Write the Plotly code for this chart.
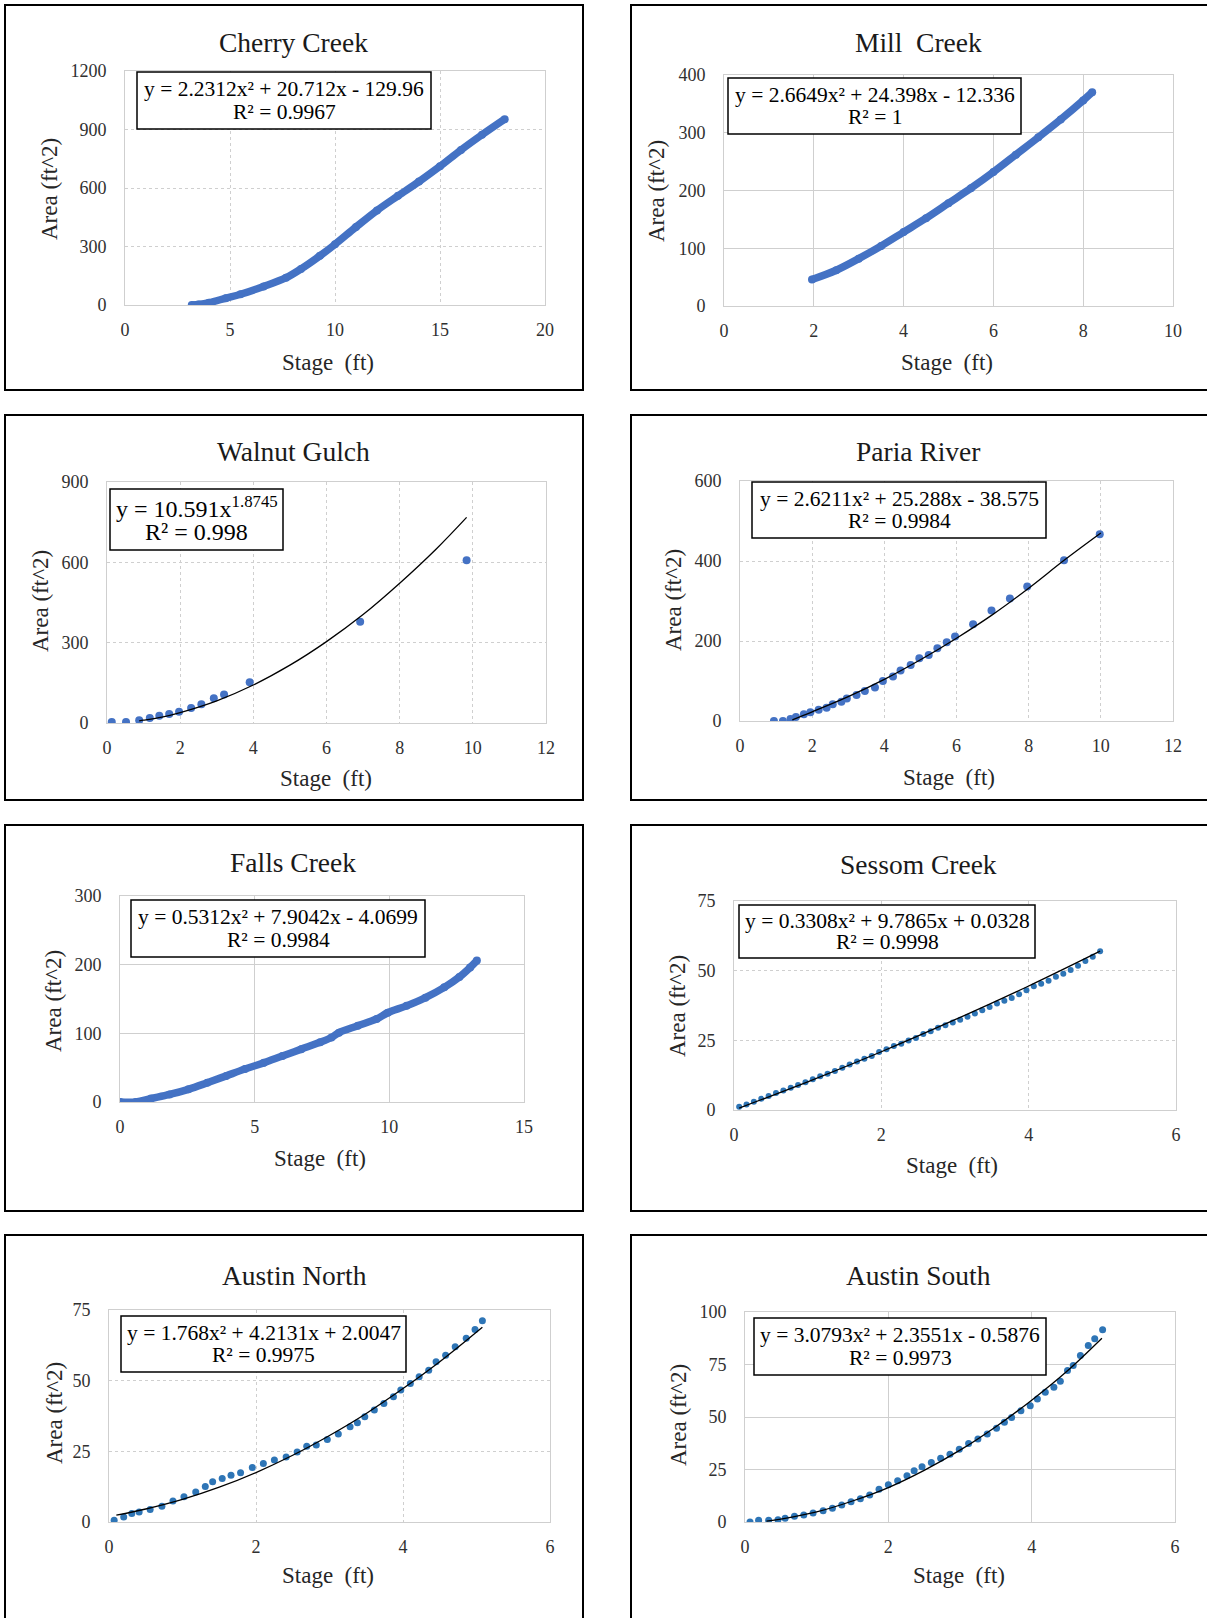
import plotly.graph_objects as go

W, H = 1207, 1618

# ---------------- data ----------------
cherry_stage = [3.18, 3.5, 4.0, 4.8, 5.5, 6.6, 7.67, 8.38, 9.28, 10.0, 11.0, 12.0, 13.0, 14.0, 15.0, 16.0, 17.0, 18.08]
cherry_area = [0, 3, 12, 35, 55, 95, 140, 185, 252, 311, 400, 485, 560, 633, 711, 795, 873, 953]

mill_stage = [1.96, 2.5, 3.0, 3.5, 4.0, 4.5, 5.0, 5.5, 6.0, 6.5, 7.0, 7.5, 8.0, 8.2]
mill_area = [46, 62, 82, 104, 128, 152, 178, 204, 232, 262, 292, 323, 356, 370]

walnut_stage = [0.13, 0.52, 0.88, 1.17, 1.43, 1.70, 1.97, 2.30, 2.58, 2.92, 3.20, 3.90, 6.92, 9.83]
walnut_area = [4, 4, 10, 19, 27, 34, 42, 56, 70, 92, 106, 152, 378, 608]
walnut_fit_stage = [0.88, 1.0, 1.5, 2.0, 3.0, 4.0, 5.0, 6.0, 7.0, 8.0, 9.0, 9.83]
walnut_fit_area = [8.3, 10.6, 22, 39, 83, 142, 216, 304, 405, 522, 650, 768]

paria_stage = [0.94, 1.19, 1.40, 1.55, 1.77, 1.95, 2.18, 2.40, 2.57, 2.81, 2.96, 3.23, 3.46, 3.74, 3.96,
               4.24, 4.45, 4.73, 4.97, 5.23, 5.47, 5.73, 5.96, 6.46, 6.97, 7.48, 7.96, 8.98, 9.97]
paria_area = [0, 0, 5, 10, 17, 22, 28, 33, 42, 48, 56, 65, 75, 84, 100,
              111, 126, 140, 157, 165, 182, 197, 211, 242, 276, 306, 336, 402, 467]
paria_fit_stage = [1.45, 2.0, 3.0, 4.0, 5.0, 6.0, 7.0, 8.0, 9.0, 10.0]
paria_fit_area = [3, 23, 61, 104, 153, 207, 266, 332, 403, 470]

falls_stage = [0, 0.59, 1.15, 1.84, 2.54, 3.24, 3.94, 4.64, 5.34, 6.03, 6.73, 7.43, 7.85, 8.13,
               8.83, 9.53, 9.94, 10.64, 11.34, 12.04, 12.6, 13.0, 13.25]
falls_area = [0, 0, 5, 11, 18.5, 28, 38, 48, 57, 67, 77, 87, 94, 101,
              111, 121, 130, 140, 152, 167, 182, 196, 206]

sessom_stage = [0.07, 0.17, 0.27, 0.37, 0.47, 0.57, 0.67, 0.77, 0.87, 0.97, 1.07, 1.17, 1.27, 1.37, 1.47,
                1.57, 1.67, 1.77, 1.87, 1.97, 2.07, 2.17, 2.27, 2.37, 2.47, 2.57, 2.67, 2.77, 2.87, 2.97,
                3.07, 3.17, 3.27, 3.37, 3.47, 3.57, 3.67, 3.77, 3.87, 3.97, 4.07, 4.17, 4.27, 4.37, 4.47,
                4.57, 4.67, 4.77, 4.87, 4.97]
sessom_area = [1.2, 2.0, 3.0, 4.0, 5.0, 6.1, 7.0, 8.0, 9.0, 10.0, 11.0, 12.1, 13.0, 14.0, 15.2,
               16.3, 17.4, 18.4, 19.4, 20.8, 21.8, 23.0, 23.8, 24.9, 25.8, 27.3, 28.3, 29.5, 30.4, 31.4,
               32.4, 33.5, 34.6, 35.8, 37.0, 38.2, 39.2, 40.2, 41.5, 43.0, 44.4, 45.3, 46.4, 47.8, 48.9,
               50.2, 51.8, 53.5, 55.0, 57.0]
sessom_fit_stage = [0.07, 1.0, 2.0, 3.0, 4.0, 4.97]
sessom_fit_area = [0.7, 10.1, 20.9, 32.4, 44.5, 57.0]

austin_n_stage = [0.07, 0.2, 0.31, 0.41, 0.56, 0.72, 0.87, 1.02, 1.18, 1.31, 1.41, 1.54, 1.66, 1.79, 1.95,
                  2.10, 2.25, 2.41, 2.56, 2.69, 2.82, 2.97, 3.12, 3.28, 3.38, 3.48, 3.61, 3.74, 3.87, 3.97,
                  4.10, 4.22, 4.35, 4.45, 4.58, 4.71, 4.86, 4.98, 5.08]
austin_n_area = [0.6, 1.8, 3.0, 3.5, 4.4, 5.6, 7.4, 8.9, 10.6, 12.6, 14.2, 15.4, 16.5, 17.4, 19.3,
                 20.7, 21.9, 23.0, 24.8, 26.8, 27.2, 29.2, 31.1, 33.7, 35.1, 37.2, 39.6, 41.9, 44.3, 46.7,
                 49.0, 51.4, 53.7, 56.7, 59.0, 62.0, 65.0, 68.1, 71.2]
austin_n_fit_stage = [0.1, 0.5, 1.0, 1.5, 2.0, 2.5, 3.0, 3.5, 4.0, 4.5, 5.08]
austin_n_fit_area = [2.4, 4.6, 8.0, 12.3, 17.5, 23.6, 30.6, 38.4, 47.2, 56.7, 68.9]

austin_s_stage = [0.07, 0.19, 0.33, 0.46, 0.56, 0.69, 0.82, 0.95, 1.09, 1.22, 1.35, 1.48, 1.61, 1.74, 1.87,
                  2.0, 2.13, 2.26, 2.36, 2.47, 2.60, 2.73, 2.86, 2.99, 3.12, 3.25, 3.38, 3.51, 3.62, 3.72,
                  3.85, 3.98, 4.08, 4.19, 4.31, 4.40, 4.50, 4.58, 4.68, 4.79, 4.88, 4.99]
austin_s_area = [0, 0.8, 0.8, 1.1, 1.8, 2.7, 3.3, 4.3, 5.3, 6.5, 8.1, 9.7, 11.1, 12.9, 15.6,
                 17.7, 19.6, 22.0, 24.4, 26.3, 28.3, 30.3, 32.3, 34.7, 37.4, 39.5, 41.9, 44.6, 47.5, 49.8,
                 53.0, 55.4, 58.6, 61.8, 64.2, 67.0, 72.1, 74.5, 79.3, 84.1, 87.3, 91.6]
austin_s_fit_stage = [0.3, 0.5, 1.0, 1.5, 2.0, 2.5, 3.0, 3.5, 4.0, 4.5, 4.98]
austin_s_fit_area = [0.4, 1.4, 4.8, 10.0, 16.4, 24.6, 34.2, 45.4, 58.0, 72.0, 87.5]

titles = ["Cherry Creek", "Mill  Creek", "Walnut Gulch", "Paria River",
          "Falls Creek", "Sessom Creek", "Austin North", "Austin South"]
equation_lines = [
    "y = 2.2312x² + 20.712x - 129.96",
    "y = 2.6649x² + 24.398x - 12.336",
    "y = 10.591x<sup>1.8745</sup>",
    "y = 2.6211x² + 25.288x - 38.575",
    "y = 0.5312x² + 7.9042x - 4.0699",
    "y = 0.3308x² + 9.7865x + 0.0328",
    "y = 1.768x² + 4.2131x + 2.0047",
    "y = 3.0793x² + 2.3551x - 0.5876",
]
r2_lines = ["R² = 0.9967", "R² = 1", "R² = 0.998", "R² = 0.9984",
            "R² = 0.9984", "R² = 0.9998", "R² = 0.9975", "R² = 0.9973"]
x_ranges = [(0, 20, 5), (0, 10, 2), (0, 12, 2), (0, 12, 2), (0, 15, 5), (0, 6, 2), (0, 6, 2), (0, 6, 2)]
y_ranges = [(0, 1200, 300), (0, 400, 100), (0, 900, 300), (0, 600, 200), (0, 300, 100), (0, 75, 25), (0, 75, 25), (0, 100, 25)]
x_label = "Stage  (ft)"
y_label = "Area (ft^2)"

series = [
    (cherry_stage, cherry_area, None, None),
    (mill_stage, mill_area, None, None),
    (walnut_stage, walnut_area, walnut_fit_stage, walnut_fit_area),
    (paria_stage, paria_area, paria_fit_stage, paria_fit_area),
    (falls_stage, falls_area, None, None),
    (sessom_stage, sessom_area, sessom_fit_stage, sessom_fit_area),
    (austin_n_stage, austin_n_area, austin_n_fit_stage, austin_n_fit_area),
    (austin_s_stage, austin_s_area, austin_s_fit_stage, austin_s_fit_area),
]

# ---------------- layout geometry (page pixels) ----------------
plot_px = [
    (125, 545, 71, 305), (724, 1173, 75, 306),
    (107, 546, 482, 723), (740, 1173, 481, 721),
    (120, 524, 896, 1102), (734, 1176, 901, 1110),
    (109, 550, 1310, 1522), (745, 1175, 1312, 1522),
]
panel_px = [
    (5, 583, 5, 390), (631, 1230, 5, 390),
    (5, 583, 415, 800), (631, 1230, 415, 800),
    (5, 583, 825, 1211), (631, 1230, 825, 1211),
    (5, 583, 1235, 1640), (631, 1230, 1235, 1640),
]
eq_box_px = [
    (137, 431, 72, 129), (728, 1021, 78, 134),
    (110, 283, 489, 550), (752, 1046, 482, 538),
    (131, 425, 900, 957), (739, 1035, 905, 958),
    (121, 406, 1316, 1372), (754, 1046, 1318, 1375),
]
title_px = [(293, 42), (918, 42), (293, 452), (918, 452), (293, 863), (918, 864), (294, 1275), (918, 1275)]
xlab_px = [(328, 362), (947, 362), (326, 778), (949, 777), (320, 1158), (952, 1165), (328, 1575), (959, 1575)]
ylab_px = [(50, 189), (656, 191), (40, 601), (673, 600), (54, 1001), (678, 1006), (54, 1413), (678, 1415)]
grid_dash = ["dot", "solid", "dot", "dot", "solid", "dot", "dot", "solid"]
eq_font = [21.5, 21.5, 24, 21.5, 21.5, 21.5, 21.5, 21.5]

FONT = "Liberation Serif"
BLUE = "#4472C4"
BLUE2 = "#2E75B6"


def px(x):
    return x / W


def py(y):
    return 1 - y / H


fig = go.Figure()
shapes = []
annotations = []

for i in range(8):
    n = "" if i == 0 else str(i + 1)
    l, r, t, b = plot_px[i]
    xr, yr = x_ranges[i], y_ranges[i]
    fig.update_layout(**{
        "xaxis" + n: dict(domain=[px(l), px(r)], range=[xr[0], xr[1]], tick0=0, dtick=xr[2],
                          anchor="y" + n, showgrid=True, gridcolor="#cfcfcf", griddash=grid_dash[i],
                          zeroline=False, showline=True, mirror=True, linecolor="#cfcfcf",
                          ticks="", ticklabelstandoff=8, automargin=False,
                          tickfont=dict(family=FONT, size=18, color="#303030"), fixedrange=True),
        "yaxis" + n: dict(domain=[py(b), py(t)], range=[yr[0], yr[1]], tick0=0, dtick=yr[2],
                          anchor="x" + n, showgrid=True, gridcolor="#cfcfcf", griddash=grid_dash[i],
                          zeroline=False, showline=True, mirror=True, linecolor="#cfcfcf",
                          ticks="", ticklabelstandoff=14, automargin=False,
                          tickfont=dict(family=FONT, size=18, color="#303030"), fixedrange=True),
    })
    xs, ys, fx, fy = series[i]
    xa, ya = "x" + n, "y" + n
    if i in (0, 1, 4):
        fig.add_trace(go.Scatter(x=xs, y=ys, xaxis=xa, yaxis=ya, mode="lines+markers",
                                 line=dict(color=BLUE, width=7.5, shape="spline"),
                                 marker=dict(color=BLUE, size=8), showlegend=False))
    else:
        col = BLUE if i in (2, 3) else BLUE2
        msize = 8 if i in (2, 3) else (6 if i == 5 else 7)
        fig.add_trace(go.Scatter(x=xs, y=ys, xaxis=xa, yaxis=ya, mode="markers",
                                 marker=dict(color=col, size=msize), showlegend=False))
        fig.add_trace(go.Scatter(x=fx, y=fy, xaxis=xa, yaxis=ya, mode="lines",
                                 line=dict(color="black", width=1.3, shape="spline"),
                                 showlegend=False))

    pl, pr, pt, pb = panel_px[i]
    shapes.append(dict(type="rect", xref="paper", yref="paper", x0=px(pl), x1=px(pr),
                       y0=py(pb), y1=py(pt), line=dict(color="black", width=2),
                       fillcolor="rgba(0,0,0,0)", layer="above"))
    el, er, et, eb = eq_box_px[i]
    shapes.append(dict(type="rect", xref="paper", yref="paper", x0=px(el), x1=px(er),
                       y0=py(eb), y1=py(et), line=dict(color="black", width=1.5),
                       fillcolor="white", layer="above"))
    hgt = eb - et
    annotations.append(dict(text=equation_lines[i], xref="paper", yref="paper",
                            x=px((el + er) / 2), y=py(et + 0.30 * hgt), xanchor="center", yanchor="middle",
                            showarrow=False, font=dict(family=FONT, size=eq_font[i], color="black")))
    annotations.append(dict(text=r2_lines[i], xref="paper", yref="paper",
                            x=px((el + er) / 2), y=py(et + 0.70 * hgt), xanchor="center", yanchor="middle",
                            showarrow=False, font=dict(family=FONT, size=eq_font[i], color="black")))
    annotations.append(dict(text=titles[i], xref="paper", yref="paper",
                            x=px(title_px[i][0]), y=py(title_px[i][1]), xanchor="center", yanchor="middle",
                            showarrow=False, font=dict(family=FONT, size=27.5, color="#1a1a1a")))
    annotations.append(dict(text=x_label, xref="paper", yref="paper",
                            x=px(xlab_px[i][0]), y=py(xlab_px[i][1]), xanchor="center", yanchor="middle",
                            showarrow=False, font=dict(family=FONT, size=23, color="#262626")))
    annotations.append(dict(text=y_label, xref="paper", yref="paper", textangle=-90,
                            x=px(ylab_px[i][0]), y=py(ylab_px[i][1]), xanchor="center", yanchor="middle",
                            showarrow=False, font=dict(family=FONT, size=23, color="#262626")))

fig.update_layout(template="none", width=W, height=H,
                  margin=dict(l=0, r=0, t=0, b=0, pad=0, autoexpand=False),
                  paper_bgcolor="white", plot_bgcolor="white",
                  shapes=shapes, annotations=annotations, showlegend=False)

fig.write_html("out.html", config={"displayModeBar": False},
               post_script="document.body.style.margin='0';document.body.style.overflow='hidden';")
